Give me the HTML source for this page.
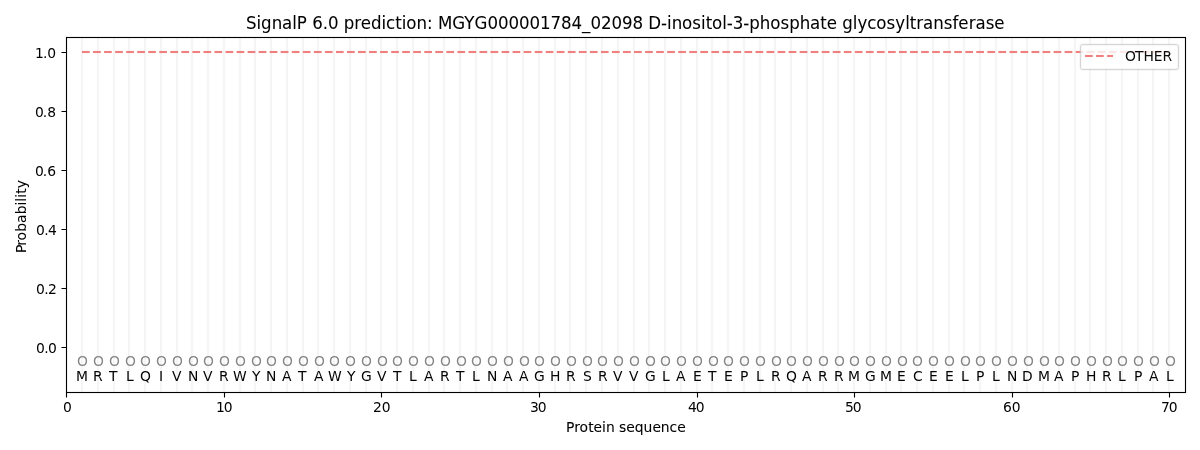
<!DOCTYPE html>
<html lang="en">
<head>
<meta charset="utf-8">
<title>SignalP 6.0 prediction: MGYG000001784_02098 D-inositol-3-phosphate glycosyltransferase</title>
<style>
html,body{margin:0;padding:0;background:#ffffff;overflow:hidden}
svg{display:block;position:absolute;left:0;top:0}
text{white-space:pre}
</style>
</head>
<body>
<svg width="1200" height="450" viewBox="0 0 1200 450" font-family="'DejaVu Sans', 'Liberation Sans', sans-serif">
<rect width="1200" height="450" fill="#ffffff"/>
<defs><clipPath id="axclip"><rect x="66.278" y="37.333" width="1118.722" height="354.389"/></clipPath></defs>
<g id="grid" clip-path="url(#axclip)" stroke="#f5f5f5" stroke-width="2.2" fill="none">
<path d="M82 30V400M98 30V400M114 30V400M129 30V400M145 30V400M161 30V400M177 30V400M192 30V400M208 30V400M224 30V400M240 30V400M255 30V400M271 30V400M287 30V400M303 30V400M318 30V400M334 30V400M350 30V400M366 30V400M381 30V400M397 30V400M413 30V400M429 30V400M444 30V400M460 30V400M476 30V400M492 30V400M507 30V400M523 30V400M539 30V400M555 30V400M570 30V400M586 30V400M602 30V400M618 30V400M634 30V400M649 30V400M665 30V400M681 30V400M697 30V400M712 30V400M728 30V400M744 30V400M760 30V400M775 30V400M791 30V400M807 30V400M823 30V400M838 30V400M854 30V400M870 30V400M886 30V400M901 30V400M917 30V400M933 30V400M949 30V400M964 30V400M980 30V400M996 30V400M1012 30V400M1027 30V400M1043 30V400M1059 30V400M1075 30V400M1090 30V400M1106 30V400M1122 30V400M1138 30V400M1153 30V400M1169 30V400"/>
</g>
<g id="ticks" stroke="#000000" stroke-width="1.111" fill="none">
<path d="M66.5 392.5V397.5M224.5 392.5V397.5M381.5 392.5V397.5M539.5 392.5V397.5M697.5 392.5V397.5M854.5 392.5V397.5M1012.5 392.5V397.5M1169.5 392.5V397.5M66.5 347.5H61.5M66.5 288.5H61.5M66.5 229.5H61.5M66.5 170.5H61.5M66.5 111.5H61.5M66.5 52.5H61.5"/>
</g>
<g id="other" clip-path="url(#axclip)" stroke="#f08080" stroke-dasharray="7.708 3.333" fill="none"><path d="M82 52H1169" stroke-width="4" stroke-opacity="0.047"/><path d="M82 52H1169" stroke-width="2"/></g>
<rect id="spines" x="66.5" y="37.5" width="1119" height="355" fill="none" stroke="#000000" stroke-width="1.111" stroke-linejoin="miter"/>
<g id="xticklabels">
<text font-size="13.889" x="62.903" y="411.998" fill="#020202">0</text>
<text font-size="13.889" x="216.032 223.657" y="411.998" fill="#020202">10</text>
<text font-size="13.889" x="372.911 381.661" y="411.998" fill="#020202">20</text>
<text font-size="13.889" x="529.977 537.727" y="411.998" fill="#020202">30</text>
<text font-size="13.889" x="688.044 695.794" y="411.998" fill="#020202">40</text>
<text font-size="13.889" x="845.11 852.86" y="411.998" fill="#020202">50</text>
<text font-size="13.889" x="1003.114 1011.739" y="411.998" fill="#020202">60</text>
<text font-size="13.889" x="1160.993 1168.743" y="411.998" fill="#020202">70</text>
</g>
<text font-size="13.889" x="566.014 574.139 579.389 588.139 593.389 601.889 606.014 614.514 618.889 626.264 634.764 643.389 652.389 660.639 669.389 677.264" y="431.995" stroke="#000000" stroke-width="0.063">Protein sequence</text>
<g id="yticklabels">
<text font-size="13.889" x="35.931 44.181 48.056" y="352.7">0.0</text>
<text font-size="13.889" x="35.931 44.181 48.056" y="293.635">0.2</text>
<text font-size="13.889" x="35.931 44.181 48.056" y="234.571">0.4</text>
<text font-size="13.889" x="35.056 42.806 47.181" y="175.506">0.6</text>
<text font-size="13.889" x="35.056 42.806 47.181" y="117.441">0.8</text>
<text font-size="13.889" x="35.056 42.931 47.306" y="58.376">1.0</text>
</g>
<text transform="translate(26.024 216.528) rotate(-90)" font-size="13.889" x="-36.438 -29.312 -24.062 -15.312 -6.438 2.188 11.062 14.688 18.812 22.688 28.188" y="0" stroke="#000000" stroke-width="0.043">Probability</text>
<g id="sequence">
<text font-size="13.889" x="77.097" y="366.022" fill="#868686">O</text>
<text font-size="13.889" x="76.034" y="380.788" fill="#030303">M</text>
<text font-size="13.889" x="93.104" y="366.022" fill="#868686">O</text>
<text font-size="13.889" x="92.979" y="380.788" fill="#030303">R</text>
<text font-size="13.889" x="109.11" y="366.022" fill="#868686">O</text>
<text font-size="13.889" x="109.048" y="380.788" fill="#030303">T</text>
<text font-size="13.889" x="125.117" y="366.022" fill="#868686">O</text>
<text font-size="13.889" x="125.929" y="380.788" fill="#030303">L</text>
<text font-size="13.889" x="140.124" y="366.022" fill="#868686">O</text>
<text font-size="13.889" x="140.124" y="380.788" fill="#030303">Q</text>
<text font-size="13.889" x="155.88" y="366.022" fill="#868686">O</text>
<text font-size="13.889" x="159.068" y="380.788" fill="#030303">I</text>
<text font-size="13.889" x="171.887" y="366.022" fill="#868686">O</text>
<text font-size="13.889" x="172.074" y="380.788" fill="#030303">V</text>
<text font-size="13.889" x="187.893" y="366.022" fill="#868686">O</text>
<text font-size="13.889" x="187.893" y="380.788" fill="#030303">N</text>
<text font-size="13.889" x="202.9" y="366.022" fill="#868686">O</text>
<text font-size="13.889" x="203.088" y="380.788" fill="#030303">V</text>
<text font-size="13.889" x="218.907" y="366.022" fill="#868686">O</text>
<text font-size="13.889" x="219.032" y="380.788" fill="#030303">R</text>
<text font-size="13.889" x="234.913" y="366.022" fill="#868686">O</text>
<text font-size="13.889" x="232.976" y="380.788" fill="#030303">W</text>
<text font-size="13.889" x="250.92" y="366.022" fill="#868686">O</text>
<text font-size="13.889" x="251.92" y="380.788" fill="#030303">Y</text>
<text font-size="13.889" x="265.927" y="366.022" fill="#868686">O</text>
<text font-size="13.889" x="265.927" y="380.788" fill="#030303">N</text>
<text font-size="13.889" x="281.933" y="366.022" fill="#868686">O</text>
<text font-size="13.889" x="282.121" y="380.788" fill="#030303">A</text>
<text font-size="13.889" x="297.94" y="366.022" fill="#868686">O</text>
<text font-size="13.889" x="297.878" y="380.788" fill="#030303">T</text>
<text font-size="13.889" x="313.947" y="366.022" fill="#868686">O</text>
<text font-size="13.889" x="313.884" y="380.788" fill="#030303">A</text>
<text font-size="13.889" x="328.953" y="366.022" fill="#868686">O</text>
<text font-size="13.889" x="328.016" y="380.788" fill="#030303">W</text>
<text font-size="13.889" x="344.96" y="366.022" fill="#868686">O</text>
<text font-size="13.889" x="346.96" y="380.788" fill="#030303">Y</text>
<text font-size="13.889" x="360.967" y="366.022" fill="#868686">O</text>
<text font-size="13.889" x="361.029" y="380.788" fill="#030303">G</text>
<text font-size="13.889" x="376.973" y="366.022" fill="#868686">O</text>
<text font-size="13.889" x="376.911" y="380.788" fill="#030303">V</text>
<text font-size="13.889" x="391.98" y="366.022" fill="#868686">O</text>
<text font-size="13.889" x="392.917" y="380.788" fill="#030303">T</text>
<text font-size="13.889" x="407.987" y="366.022" fill="#868686">O</text>
<text font-size="13.889" x="409.049" y="380.788" fill="#030303">L</text>
<text font-size="13.889" x="423.993" y="366.022" fill="#868686">O</text>
<text font-size="13.889" x="423.931" y="380.788" fill="#030303">A</text>
<text font-size="13.889" x="440" y="366.022" fill="#868686">O</text>
<text font-size="13.889" x="439.875" y="380.788" fill="#030303">R</text>
<text font-size="13.889" x="456.007" y="366.022" fill="#868686">O</text>
<text font-size="13.889" x="455.944" y="380.788" fill="#030303">T</text>
<text font-size="13.889" x="471.013" y="366.022" fill="#868686">O</text>
<text font-size="13.889" x="472.076" y="380.788" fill="#030303">L</text>
<text font-size="13.889" x="487.02" y="366.022" fill="#868686">O</text>
<text font-size="13.889" x="487.02" y="380.788" fill="#030303">N</text>
<text font-size="13.889" x="503.027" y="366.022" fill="#868686">O</text>
<text font-size="13.889" x="502.964" y="380.788" fill="#030303">A</text>
<text font-size="13.889" x="519.033" y="366.022" fill="#868686">O</text>
<text font-size="13.889" x="518.971" y="380.788" fill="#030303">A</text>
<text font-size="13.889" x="534.04" y="366.022" fill="#868686">O</text>
<text font-size="13.889" x="534.102" y="380.788" fill="#030303">G</text>
<text font-size="13.889" x="550.046" y="366.022" fill="#868686">O</text>
<text font-size="13.889" x="550.046" y="380.788" fill="#030303">H</text>
<text font-size="13.889" x="566.053" y="366.022" fill="#868686">O</text>
<text font-size="13.889" x="565.928" y="380.788" fill="#030303">R</text>
<text font-size="13.889" x="582.06" y="366.022" fill="#868686">O</text>
<text font-size="13.889" x="583.122" y="380.788" fill="#030303">S</text>
<text font-size="13.889" x="597.066" y="366.022" fill="#868686">O</text>
<text font-size="13.889" x="597.941" y="380.788" fill="#030303">R</text>
<text font-size="13.889" x="613.073" y="366.022" fill="#868686">O</text>
<text font-size="13.889" x="613.011" y="380.788" fill="#030303">V</text>
<text font-size="13.889" x="629.08" y="366.022" fill="#868686">O</text>
<text font-size="13.889" x="629.017" y="380.788" fill="#030303">V</text>
<text font-size="13.889" x="645.086" y="366.022" fill="#868686">O</text>
<text font-size="13.889" x="644.899" y="380.788" fill="#030303">G</text>
<text font-size="13.889" x="660.093" y="366.022" fill="#868686">O</text>
<text font-size="13.889" x="661.906" y="380.788" fill="#030303">L</text>
<text font-size="13.889" x="676.1" y="366.022" fill="#868686">O</text>
<text font-size="13.889" x="676.037" y="380.788" fill="#030303">A</text>
<text font-size="13.889" x="692.106" y="366.022" fill="#868686">O</text>
<text font-size="13.889" x="692.919" y="380.788" fill="#030303">E</text>
<text font-size="13.889" x="708.113" y="366.022" fill="#868686">O</text>
<text font-size="13.889" x="708.05" y="380.788" fill="#030303">T</text>
<text font-size="13.889" x="723.12" y="366.022" fill="#868686">O</text>
<text font-size="13.889" x="723.932" y="380.788" fill="#030303">E</text>
<text font-size="13.889" x="738.876" y="366.022" fill="#868686">O</text>
<text font-size="13.889" x="739.876" y="380.788" fill="#030303">P</text>
<text font-size="13.889" x="754.883" y="366.022" fill="#868686">O</text>
<text font-size="13.889" x="755.945" y="380.788" fill="#030303">L</text>
<text font-size="13.889" x="770.89" y="366.022" fill="#868686">O</text>
<text font-size="13.889" x="771.015" y="380.788" fill="#030303">R</text>
<text font-size="13.889" x="785.896" y="366.022" fill="#868686">O</text>
<text font-size="13.889" x="785.896" y="380.788" fill="#030303">Q</text>
<text font-size="13.889" x="801.903" y="366.022" fill="#868686">O</text>
<text font-size="13.889" x="802.09" y="380.788" fill="#030303">A</text>
<text font-size="13.889" x="817.91" y="366.022" fill="#868686">O</text>
<text font-size="13.889" x="818.035" y="380.788" fill="#030303">R</text>
<text font-size="13.889" x="833.916" y="366.022" fill="#868686">O</text>
<text font-size="13.889" x="834.041" y="380.788" fill="#030303">R</text>
<text font-size="13.889" x="848.923" y="366.022" fill="#868686">O</text>
<text font-size="13.889" x="848.11" y="380.788" fill="#030303">M</text>
<text font-size="13.889" x="864.929" y="366.022" fill="#868686">O</text>
<text font-size="13.889" x="864.992" y="380.788" fill="#030303">G</text>
<text font-size="13.889" x="880.936" y="366.022" fill="#868686">O</text>
<text font-size="13.889" x="880.124" y="380.788" fill="#030303">M</text>
<text font-size="13.889" x="896.943" y="366.022" fill="#868686">O</text>
<text font-size="13.889" x="897.005" y="380.788" fill="#030303">E</text>
<text font-size="13.889" x="911.949" y="366.022" fill="#868686">O</text>
<text font-size="13.889" x="913.012" y="380.788" fill="#030303">C</text>
<text font-size="13.889" x="927.956" y="366.022" fill="#868686">O</text>
<text font-size="13.889" x="929.019" y="380.788" fill="#030303">E</text>
<text font-size="13.889" x="943.963" y="366.022" fill="#868686">O</text>
<text font-size="13.889" x="945.025" y="380.788" fill="#030303">E</text>
<text font-size="13.889" x="959.969" y="366.022" fill="#868686">O</text>
<text font-size="13.889" x="961.032" y="380.788" fill="#030303">L</text>
<text font-size="13.889" x="974.976" y="366.022" fill="#868686">O</text>
<text font-size="13.889" x="975.976" y="380.788" fill="#030303">P</text>
<text font-size="13.889" x="990.983" y="366.022" fill="#868686">O</text>
<text font-size="13.889" x="992.045" y="380.788" fill="#030303">L</text>
<text font-size="13.889" x="1006.989" y="366.022" fill="#868686">O</text>
<text font-size="13.889" x="1006.989" y="380.788" fill="#030303">N</text>
<text font-size="13.889" x="1022.996" y="366.022" fill="#868686">O</text>
<text font-size="13.889" x="1022.058" y="380.788" fill="#030303">D</text>
<text font-size="13.889" x="1039.003" y="366.022" fill="#868686">O</text>
<text font-size="13.889" x="1037.94" y="380.788" fill="#030303">M</text>
<text font-size="13.889" x="1054.009" y="366.022" fill="#868686">O</text>
<text font-size="13.889" x="1053.947" y="380.788" fill="#030303">A</text>
<text font-size="13.889" x="1070.016" y="366.022" fill="#868686">O</text>
<text font-size="13.889" x="1071.016" y="380.788" fill="#030303">P</text>
<text font-size="13.889" x="1086.023" y="366.022" fill="#868686">O</text>
<text font-size="13.889" x="1086.023" y="380.788" fill="#030303">H</text>
<text font-size="13.889" x="1102.029" y="366.022" fill="#868686">O</text>
<text font-size="13.889" x="1101.904" y="380.788" fill="#030303">R</text>
<text font-size="13.889" x="1117.036" y="366.022" fill="#868686">O</text>
<text font-size="13.889" x="1118.098" y="380.788" fill="#030303">L</text>
<text font-size="13.889" x="1133.043" y="366.022" fill="#868686">O</text>
<text font-size="13.889" x="1134.043" y="380.788" fill="#030303">P</text>
<text font-size="13.889" x="1149.049" y="366.022" fill="#868686">O</text>
<text font-size="13.889" x="1148.987" y="380.788" fill="#030303">A</text>
<text font-size="13.889" x="1165.056" y="366.022" fill="#868686">O</text>
<text font-size="13.889" x="1166.118" y="380.788" fill="#030303">L</text>
</g>
<text transform="matrix(1 0 0 1.11 0 -3.1625)" font-size="16.667" x="246.076 256.576 260.951 271.701 281.951 292.326 296.701 307.326 312.326 322.826 328.076 338.826 343.826 354.326 360.826 371.076 381.576 385.951 395.326 401.826 406.201 416.576 427.076 433.076 438.076 452.201 464.201 474.576 487.451 497.951 508.451 518.951 529.451 539.951 550.576 561.076 571.576 582.076 590.451 600.951 611.576 622.076 632.576 643.326 648.326 660.951 667.076 671.701 681.951 692.326 701.076 705.701 711.951 722.326 726.701 732.826 743.201 749.326 759.826 770.326 780.451 789.201 799.701 809.951 820.326 826.826 837.326 842.326 852.826 857.451 867.326 876.201 886.576 895.326 905.201 909.826 916.326 922.951 933.326 943.826 952.576 958.201 968.701 975.576 985.701 994.201" y="28.75" stroke="#000000" stroke-width="0.046">SignalP 6.0 prediction: MGYG000001784_02098 D-inositol-3-phosphate glycosyltransferase</text>
<g id="legend">
<g opacity="0.8" stroke="#cccccc"><path d="M1082.9 69.5H1176.1Q1178.5 69.5 1178.5 67.5V46.9Q1178.5 44.5 1176.1 44.5H1082.9Q1080.5 44.5 1080.5 46.9V67.5Q1080.5 69.5 1082.9 69.5Z" fill="#ffffff" stroke-width="2.6" stroke-opacity="0.22"/><path d="M1082.9 69.5H1176.1Q1178.5 69.5 1178.5 67.5V46.9Q1178.5 44.5 1176.1 44.5H1082.9Q1080.5 44.5 1080.5 46.9V67.5Q1080.5 69.5 1082.9 69.5Z" fill="none" stroke-width="1"/></g>
<g stroke="#f08080" stroke-dasharray="7.708 3.333" fill="none"><path d="M1085 56H1113" stroke-width="4" stroke-opacity="0.047"/><path d="M1085 56H1113" stroke-width="2"/></g>
<text font-size="13.889" x="1124.962 1135.087 1143.587 1153.712 1162.462" y="61.387" fill="#0b0b0b">OTHER</text>
</g>
</svg>
</body>
</html>
